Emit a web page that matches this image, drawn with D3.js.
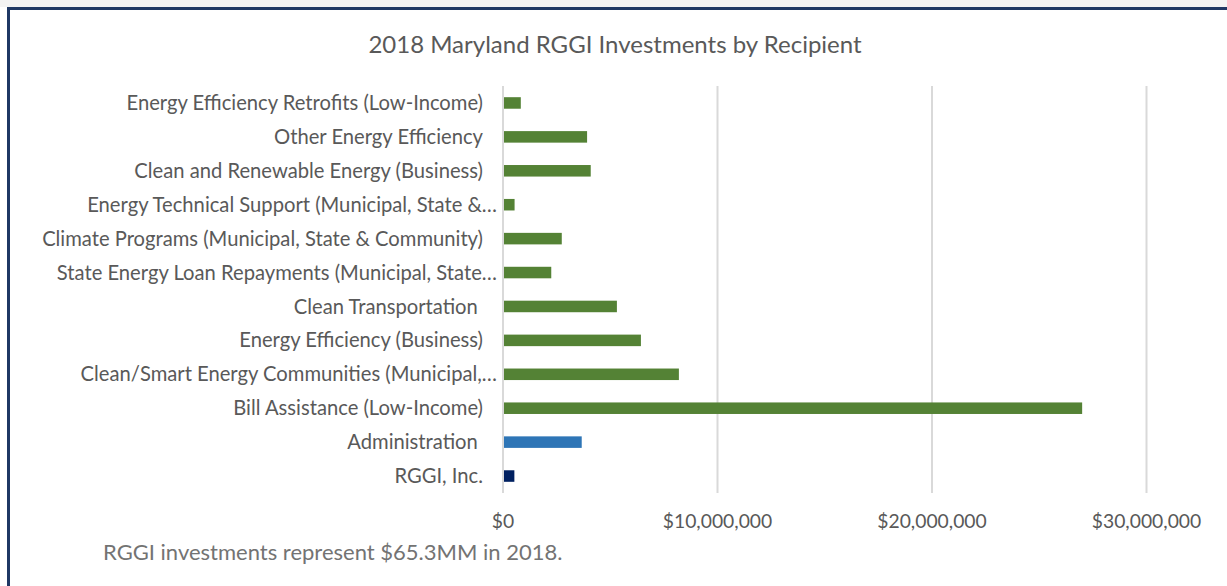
<!DOCTYPE html>
<html>
<head>
<meta charset="utf-8">
<script src="https://cdn.jsdelivr.net/npm/d3@7"></script>
<style>
  html, body { margin: 0; padding: 0; background: #ffffff; }
  svg { display: block; }
  text { font-family: Lato, "Open Sans", sans-serif; fill: #595959; }
</style>
</head>
<body>
<svg id="chart" width="1227" height="586"></svg>
<script>
// ---- Data ----
const categories = [
  "Energy Efficiency Retrofits (Low-Income)",
  "Other Energy Efficiency",
  "Clean and Renewable Energy (Business)",
  "Energy Technical Support (Municipal, State &…",
  "Climate Programs (Municipal, State & Community)",
  "State Energy Loan Repayments (Municipal, State…",
  "Clean Transportation ",
  "Energy Efficiency (Business)",
  "Clean/Smart Energy Communities (Municipal,…",
  "Bill Assistance (Low-Income)",
  "Administration ",
  "RGGI, Inc."
];
const values = [830000, 3920000, 4090000, 540000, 2740000, 2250000, 5310000, 6430000, 8200000, 27000000, 3670000, 530000];
const groups = ["program", "program", "program", "program", "program", "program", "program", "program", "program", "program", "admin", "rggi"];
const groupColors = { program: "#548235", admin: "#2e75b6", rggi: "#002060" };
const tickValues = [0, 10000000, 20000000, 30000000];
const title = "2018 Maryland RGGI Investments by Recipient";
const footnote = "RGGI investments represent $65.3MM in 2018.";

// ---- Layout ----
const svg = d3.select("#chart");
const W = 1227, H = 586;
const plot = { left: 503, right: 1146.5, top: 86, bottom: 493 };

// frame
svg.append("rect").attr("x", 0).attr("y", 0).attr("width", W).attr("height", 7).attr("fill", "#f3f3f3");
svg.append("rect").attr("x", 7).attr("y", 7).attr("width", W - 7).attr("height", 3).attr("fill", "#1f3864");
svg.append("rect").attr("x", 7).attr("y", 7).attr("width", 3).attr("height", H - 7).attr("fill", "#1f3864");

const x = d3.scaleLinear().domain([0, 30000000]).range([plot.left, plot.right]);
const y = d3.scaleBand().domain(categories).range([plot.top, plot.bottom]).paddingInner(0.66).paddingOuter(0.33);

// gridlines
svg.append("g").selectAll("line").data(tickValues.filter(d => d > 0)).join("line")
  .attr("x1", d => x(d)).attr("x2", d => x(d))
  .attr("y1", plot.top).attr("y2", plot.bottom)
  .attr("stroke", "#d9d9d9").attr("stroke-width", 2);

// axis line
svg.append("line").attr("x1", x(0)).attr("x2", x(0)).attr("y1", plot.top).attr("y2", plot.bottom)
  .attr("stroke", "#d9d9d9").attr("stroke-width", 2);

// bars
svg.append("g").selectAll("rect").data(categories).join("rect")
  .attr("x", x(0) + 1)
  .attr("y", d => y(d))
  .attr("width", (d, i) => x(values[i]) - x(0) - 1)
  .attr("height", y.bandwidth())
  .attr("fill", (d, i) => groupColors[groups[i]]);

// category labels
svg.append("g").selectAll("text").data(categories).join("text")
  .attr("x", d => d.endsWith("…") ? x(0) - 6 : x(0) - 20)
  .attr("y", d => y(d) + y.bandwidth() / 2)
  .attr("dy", "0.35em")
  .attr("text-anchor", "end")
  .style("white-space", "pre")
  .style("font-size", "20.2px")
  .text(d => d);

// x tick labels
const fmt = d3.format("$,.0f");
svg.append("g").selectAll("text").data(tickValues).join("text")
  .attr("x", d => x(d))
  .attr("y", 521)
  .attr("dy", "0.35em")
  .attr("text-anchor", "middle")
  .style("font-size", "19.3px")
  .text(d => fmt(d));

// title
svg.append("text").attr("x", 615).attr("y", 45).attr("dy", "0.35em")
  .attr("text-anchor", "middle").style("font-size", "24px").text(title);

// footnote
svg.append("text").attr("x", 103).attr("y", 552).attr("dy", "0.35em")
  .style("font-size", "22px").style("fill", "#737373").text(footnote);
</script>
</body>
</html>
